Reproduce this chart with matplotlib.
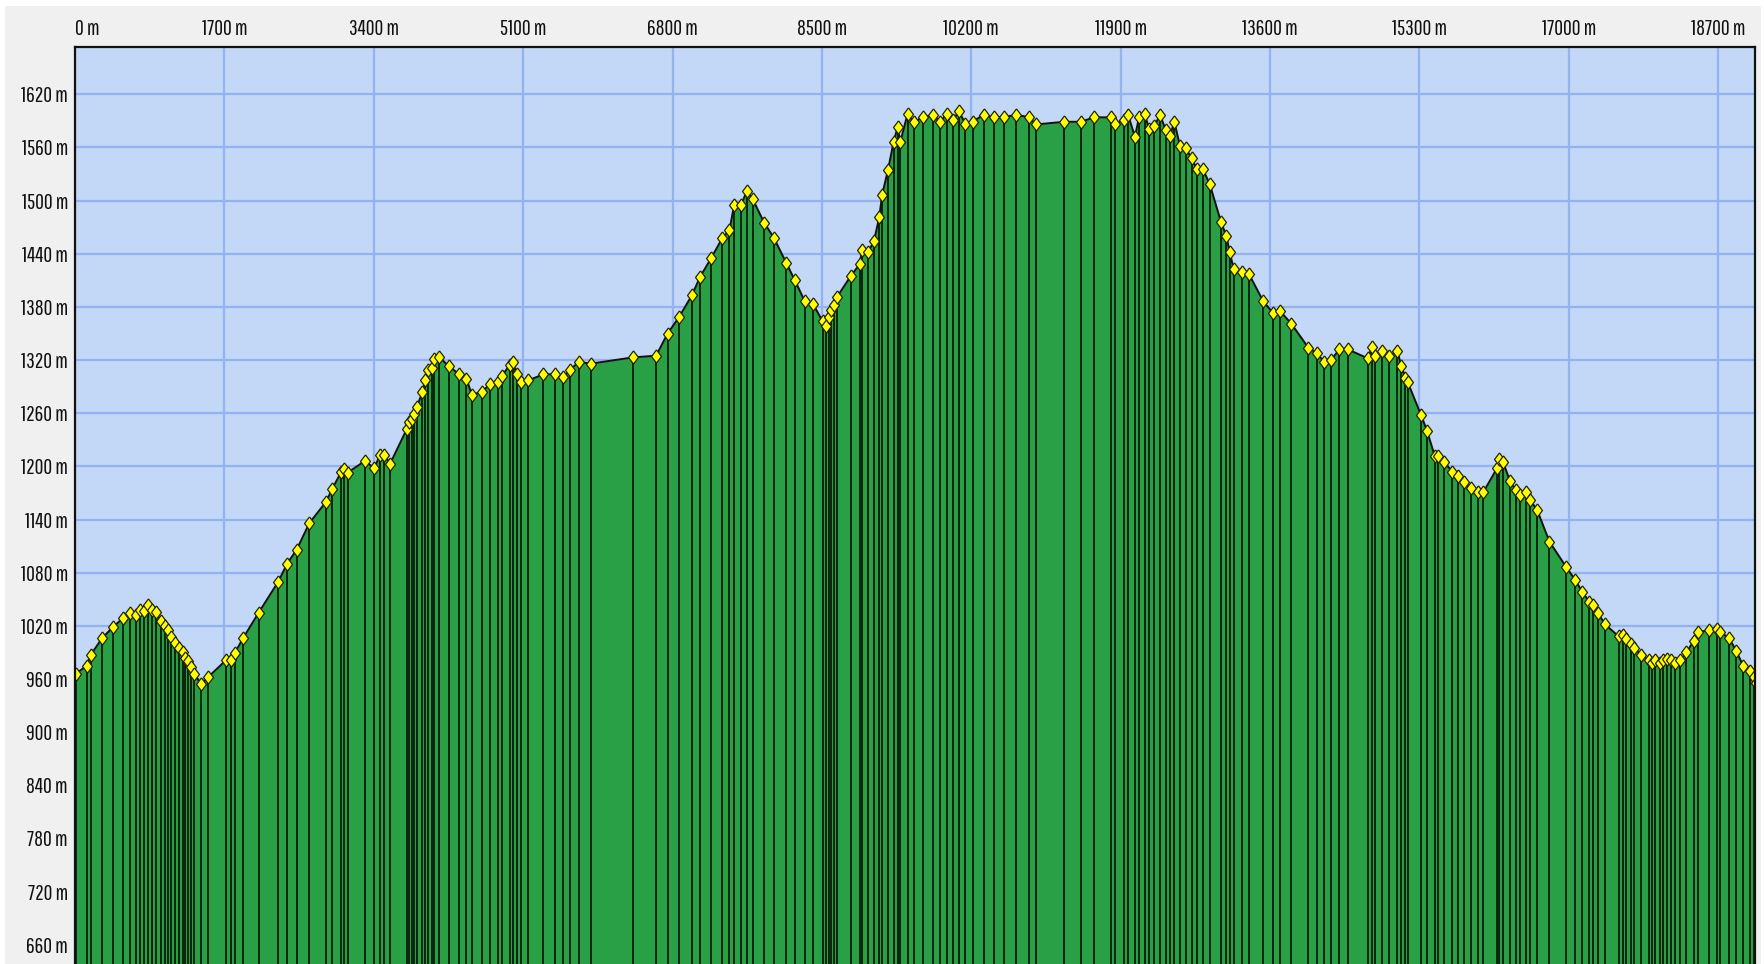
import matplotlib
matplotlib.use("Agg")
import matplotlib.pyplot as plt
from matplotlib.patches import Rectangle
from matplotlib import font_manager as fm
import numpy as np

# ---- data (distance in m, elevation in m) ----
dist_m = [10, 133, 178, 307, 436, 550, 626, 690, 740, 785, 835, 873, 922, 975, 1024,
          1062, 1096, 1142, 1187, 1225, 1256, 1290, 1324, 1358, 1434, 1514, 1715, 1772,
          1817, 1912, 2091, 2314, 2413, 2523, 2667, 2857, 2929, 3031, 3062, 3103, 3297,
          3407, 3470, 3521, 3586, 3775, 3806, 3836, 3863, 3889, 3954, 3984, 4018, 4064,
          4090, 4147, 4257, 4371, 4455, 4515, 4629, 4724, 4819, 4857, 4951, 4982, 5027,
          5077, 5156, 5331, 5464, 5559, 5634, 5733, 5871, 6348, 6613, 6744, 6877, 7019,
          7114, 7239, 7368, 7448, 7501, 7581, 7645, 7710, 7843, 7953, 8093, 8192, 8302,
          8400, 8507, 8545, 8579, 8602, 8636, 8670, 8829, 8928, 8958, 9026, 9091, 9152,
          9184, 9250, 9315, 9361, 9391, 9475, 9543, 9653, 9763, 9846, 9922, 9991, 10059,
          10131, 10214, 10340, 10453, 10567, 10711, 10856, 10939, 11258, 11451, 11592,
          11789, 11835, 11933, 11983, 12062, 12108, 12172, 12222, 12282, 12347, 12411,
          12461, 12510, 12574, 12639, 12707, 12764, 12832, 12912, 13041, 13102, 13140,
          13185, 13278, 13360, 13519, 13633, 13717, 13842, 14035, 14130, 14214, 14293,
          14388, 14487, 14711, 14760, 14790, 14870, 14953, 15048, 15094, 15139, 15166,
          15318, 15386, 15473, 15511, 15578, 15675, 15739, 15803, 15883, 15961, 16027,
          16183, 16202, 16251, 16331, 16399, 16449, 16509, 16559, 16638, 16779, 16972,
          17071, 17154, 17234, 17279, 17329, 17408, 17568, 17613, 17647, 17708, 17746,
          17826, 17909, 17951, 17985, 18042, 18072, 18118, 18167, 18213, 18262, 18338,
          18421, 18471, 18596, 18687, 18725, 18824, 18903, 18983, 19066, 19104, 19130]
elev_m = [966, 975, 987, 1006, 1019, 1029, 1034, 1032, 1038, 1037, 1044, 1038, 1036, 1025, 1020,
          1015, 1007, 1001, 995, 990, 984, 980, 974, 966, 954, 962, 981, 982,
          989, 1006, 1035, 1070, 1090, 1106, 1136, 1160, 1175, 1194, 1197, 1193, 1206,
          1198, 1213, 1213, 1203, 1242, 1250, 1253, 1259, 1267, 1284, 1297, 1309, 1311,
          1321, 1323, 1313, 1304, 1299, 1281, 1284, 1293, 1295, 1302, 1315, 1318, 1304,
          1295, 1297, 1304, 1304, 1301, 1309, 1318, 1316, 1323, 1325, 1350, 1369, 1393,
          1414, 1435, 1458, 1467, 1495, 1495, 1511, 1502, 1475, 1458, 1430, 1410, 1387,
          1383, 1364, 1359, 1369, 1376, 1382, 1391, 1415, 1428, 1444, 1442, 1454, 1481,
          1506, 1534, 1566, 1583, 1566, 1598, 1589, 1594, 1597, 1589, 1598, 1591, 1601,
          1587, 1589, 1597, 1594, 1594, 1597, 1594, 1586, 1589, 1589, 1594,
          1594, 1586, 1591, 1597, 1572, 1594, 1598, 1581, 1584, 1597, 1580,
          1573, 1589, 1562, 1559, 1548, 1536, 1536, 1519, 1476, 1460, 1442,
          1423, 1419, 1417, 1387, 1373, 1375, 1361, 1334, 1328, 1318, 1320,
          1332, 1332, 1322, 1335, 1325, 1330, 1325, 1330, 1313, 1300, 1295,
          1258, 1240, 1212, 1212, 1205, 1194, 1189, 1182, 1176, 1171, 1171,
          1198, 1208, 1205, 1183, 1173, 1168, 1171, 1162, 1151, 1115, 1086,
          1072, 1058, 1047, 1043, 1035, 1022, 1008, 1010, 1005, 1000, 995,
          987, 981, 978, 982, 978, 981, 983, 981, 978, 981, 990,
          1003, 1013, 1015, 1016, 1013, 1006, 992, 975, 969, 962, 956]

x_ticks = [0, 1700, 3400, 5100, 6800, 8500, 10200, 11900, 13600, 15300, 17000, 18700]
y_ticks = [660, 720, 780, 840, 900, 960, 1020, 1080, 1140, 1200, 1260, 1320, 1380,
           1440, 1500, 1560, 1620]

X_MAX = 19118
Y_MIN, Y_MAX = 638.3, 1673.4

# narrow font choice
available = {f.name for f in fm.fontManager.ttflist}
if "Pathway Gothic One" in available:
    FONT, FSIZE = ["Pathway Gothic One", "DejaVu Sans"], 15.5
elif "Oswald" in available:
    FONT, FSIZE = ["Oswald", "DejaVu Sans"], 12.5
else:
    FONT, FSIZE = ["IBM Plex Sans Condensed", "DejaVu Sans"], 13

W, H = 1765, 964
fig = plt.figure(figsize=(W / 100, H / 100), dpi=100, facecolor="white")
fig.patches.append(Rectangle((5 / W, 0), (1761 - 5) / W, (H - 6) / H,
                             transform=fig.transFigure, facecolor="#f0f0f0",
                             edgecolor="none", zorder=-10))

ax = fig.add_axes([75 / W, 0, (1755 - 75) / W, (H - 47) / H])
ax.set_zorder(1)
ax.set_facecolor("#c3d8f6")
ax.set_xlim(0, X_MAX)
ax.set_ylim(Y_MIN, Y_MAX)

ax.set_axisbelow(True)
ax.grid(True, color="#94b2f2", linewidth=1.6)

d = np.array(dist_m)
e = np.array(elev_m)
ax.fill_between(d, e, Y_MIN - 50, color="#29a045", zorder=2, linewidth=0)
ax.vlines(d, Y_MIN - 50, e, colors="#050a05", linewidth=1.15, zorder=3)
ax.plot(d, e, color="#111111", linewidth=1.4, zorder=4)
diamond = [(0, 1), (0.75, 0), (0, -1), (-0.75, 0), (0, 1)]
ax.plot(d, e, linestyle="none", marker=diamond, markersize=9.5,
        markerfacecolor="#ffff00", markeredgecolor="#222200", markeredgewidth=0.9,
        zorder=5, clip_on=True)

ax.xaxis.tick_top()
ax.set_xticks(x_ticks)
ax.set_xticklabels([f"{v} m" for v in x_ticks], fontsize=FSIZE, family=FONT,
                   color="#111111")
ax.get_xticklabels()[0].set_horizontalalignment("left")
ax.set_yticks(y_ticks)
ax.set_yticklabels([f"{v} m" for v in y_ticks], fontsize=FSIZE, family=FONT,
                   color="#111111")
ax.tick_params(axis="both", length=0)
ax.tick_params(axis="x", pad=6)
ax.tick_params(axis="y", pad=5)

for side in ("top", "left", "right"):
    ax.spines[side].set_color("#111111")
    ax.spines[side].set_linewidth(1.6)
    ax.spines[side].set_zorder(6)
ax.spines["bottom"].set_visible(False)

fig.savefig("out.png", dpi=100, facecolor=fig.get_facecolor())
